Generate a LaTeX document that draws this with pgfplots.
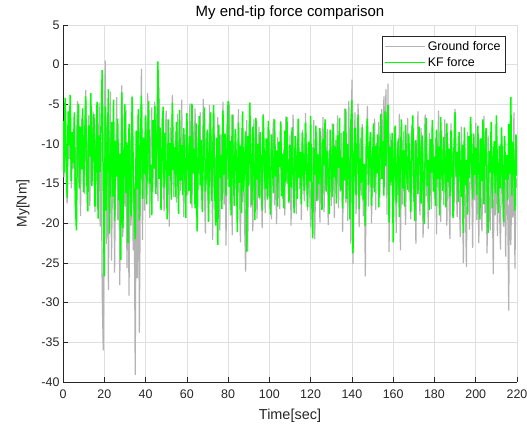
\documentclass[border=0pt]{standalone}
\usepackage{pgfplots}
\pgfplotsset{compat=1.18}
\usepackage{pgfplotstable}
\usepackage{fontspec}
\setmainfont{Liberation Sans}
\definecolor{groundgray}{RGB}{179,179,179}
\definecolor{kfgreen}{RGB}{0,255,0}
\definecolor{axgray}{RGB}{38,38,38}
\definecolor{gridgray}{RGB}{223,223,223}

\pgfplotstableread[row sep=\\]{
y\\
-9.5\\ -14.2\\ -6.1\\ -12.8\\ -17.5\\ -8.3\\ -11.9\\ -5.2\\ -15.6\\ -10.4\\
-13.1\\ -7.4\\ -18.2\\ -9.8\\ -4.6\\ -14.9\\ -11.2\\ -19.1\\ -6.8\\ -12.5\\
-8.9\\ -16.3\\ -3.2\\ -13.7\\ -10.1\\ -6.4\\ -17.8\\ -9.2\\ -14.4\\ -5.9\\
-12.2\\ -18.6\\ -7.6\\ -11.4\\ -15.1\\ -4.8\\ -20.4\\ -9.7\\ -28.9\\ -36.0\\
-8.2\\ 0.5\\ -22.6\\ -6.3\\ -28.4\\ -11.5\\ -3.4\\ -24.7\\ -14.3\\ -7.8\\
-26.2\\ -12.9\\ -4.1\\ -19.6\\ -9.4\\ -27.8\\ -15.3\\ -2.6\\ -21.7\\ -11.0\\
-17.9\\ -5.7\\ -25.6\\ -13.2\\ -29.1\\ -8.6\\ -20.3\\ -3.9\\ -23.4\\ -16.8\\
-39.1\\ -10.2\\ -26.9\\ -6.5\\ -33.8\\ -14.7\\ -0.5\\ -22.1\\ -9.1\\ -18.4\\
-7.2\\ -15.8\\ -3.6\\ -12.4\\ -19.3\\ -9.7\\ -5.4\\ -16.1\\ -11.3\\ -4.7\\
-13.9\\ -8.1\\ -17.2\\ -2.9\\ -10.8\\ -15.4\\ -6.7\\ -12.6\\ -18.5\\ -9.3\\
-5.8\\ -14.1\\ -10.6\\ -20.4\\ -7.9\\ -13.3\\ -3.8\\ -16.7\\ -11.8\\ -8.4\\
-17.4\\ -6.2\\ -12.1\\ -9.5\\ -15.9\\ -4.4\\ -13.6\\ -19.2\\ -8.8\\ -11.1\\
-6.9\\ -16.4\\ -10.3\\ -4.9\\ -14.6\\ -18.1\\ -7.7\\ -12.9\\ -5.5\\ -15.2\\
-20.7\\ -9.9\\ -13.8\\ -6.0\\ -17.1\\ -11.6\\ -4.3\\ -15.7\\ -21.3\\ -8.5\\
-12.3\\ -18.9\\ -5.1\\ -14.8\\ -9.0\\ -22.1\\ -7.3\\ -16.2\\ -11.7\\ -19.8\\
-6.6\\ -13.4\\ -20.9\\ -8.7\\ -15.0\\ -4.7\\ -17.6\\ -10.5\\ -22.8\\ -7.5\\
-14.5\\ -4.7\\ -18.3\\ -11.0\\ -21.5\\ -6.3\\ -16.0\\ -9.6\\ -13.0\\ -19.7\\
-5.6\\ -15.5\\ -22.4\\ -8.0\\ -17.3\\ -11.0\\ -20.0\\ -26.1\\ -7.0\\ -23.5\\
-10.9\\ -4.8\\ -18.0\\ -13.5\\ -21.0\\ -6.9\\ -15.9\\ -9.8\\ -19.4\\ -12.6\\
-7.8\\ -17.0\\ -11.4\\ -20.6\\ -6.2\\ -14.2\\ -18.7\\ -9.4\\ -13.9\\ -16.6\\
-8.3\\ -15.3\\ -19.5\\ -10.0\\ -6.8\\ -17.7\\ -12.4\\ -20.1\\ -9.1\\ -14.0\\
-18.2\\ -7.1\\ -13.1\\ -16.9\\ -10.7\\ -19.0\\ -6.5\\ -15.0\\ -11.9\\ -17.5\\
-8.9\\ -20.3\\ -12.8\\ -6.3\\ -16.3\\ -10.2\\ -18.8\\ -13.7\\ -7.6\\ -15.7\\
-11.2\\ -19.6\\ -8.2\\ -14.9\\ -17.2\\ -6.1\\ -12.1\\ -18.4\\ -9.7\\ -15.6\\
-20.5\\ -10.4\\ -13.3\\ -7.0\\ -22.0\\ -12.7\\ -8.5\\ -17.1\\ -11.5\\ -19.9\\
-9.0\\ -14.6\\ -6.6\\ -18.6\\ -12.2\\ -15.8\\ -8.1\\ -20.2\\ -10.8\\ -13.6\\
-17.8\\ -7.4\\ -12.5\\ -19.3\\ -9.5\\ -15.2\\ -6.4\\ -18.1\\ -11.3\\ -16.0\\
-8.6\\ -21.1\\ -12.0\\ -5.5\\ -17.4\\ -10.1\\ -19.7\\ -4.6\\ -14.8\\ -22.6\\
-1.9\\ -25.1\\ -11.8\\ -6.0\\ -18.8\\ -13.2\\ -4.9\\ -20.5\\ -9.2\\ -16.5\\
-7.5\\ -19.1\\ -12.9\\ -26.7\\ -10.6\\ -5.2\\ -17.9\\ -13.8\\ -8.8\\ -20.0\\
-11.4\\ -15.6\\ -6.8\\ -18.3\\ -9.9\\ -13.4\\ -7.2\\ -16.8\\ -10.5\\ -5.6\\
-14.1\\ -4.0\\ -9.3\\ -3.1\\ -18.9\\ -2.4\\ -23.6\\ -8.7\\ -15.3\\ -11.6\\
-19.4\\ -7.9\\ -13.0\\ -21.2\\ -9.7\\ -16.4\\ -6.2\\ -23.4\\ -12.4\\ -17.6\\
-8.4\\ -14.7\\ -20.2\\ -10.9\\ -6.7\\ -16.1\\ -12.6\\ -19.5\\ -7.7\\ -13.9\\
-17.3\\ -9.6\\ -22.6\\ -11.1\\ -5.9\\ -15.4\\ -19.0\\ -8.0\\ -13.1\\ -21.8\\
-10.0\\ -6.3\\ -16.6\\ -12.3\\ -20.7\\ -8.6\\ -14.4\\ -18.2\\ -7.1\\ -12.8\\
-16.9\\ -9.2\\ -21.4\\ -11.7\\ -5.8\\ -15.1\\ -19.8\\ -8.3\\ -13.5\\ -17.7\\
-6.9\\ -12.0\\ -20.3\\ -9.8\\ -15.7\\ -22.0\\ -7.4\\ -14.3\\ -11.0\\ -18.5\\
-5.6\\ -13.8\\ -19.2\\ -9.0\\ -16.2\\ -21.7\\ -7.8\\ -14.9\\ -25.0\\ -11.5\\
-18.0\\ -25.5\\ -8.5\\ -15.5\\ -20.8\\ -6.6\\ -13.2\\ -23.1\\ -10.3\\ -17.1\\
-7.3\\ -19.6\\ -14.0\\ -22.5\\ -9.4\\ -16.8\\ -21.0\\ -11.9\\ -6.5\\ -18.7\\
-13.0\\ -23.8\\ -8.9\\ -17.4\\ -20.9\\ -10.6\\ -15.3\\ -26.4\\ -12.2\\ -19.0\\
-7.6\\ -21.6\\ -14.5\\ -18.0\\ -23.3\\ -9.8\\ -16.1\\ -20.4\\ -11.4\\ -24.2\\
-13.3\\ -17.9\\ -31.0\\ -8.2\\ -22.7\\ -15.0\\ -19.3\\ -6.0\\ -25.7\\ -14.2\\
-15.5\\
}\groundtable

\pgfplotstableread[row sep=\\]{
y\\
-7.1\\ -13.6\\ -4.2\\ -11.3\\ -16.8\\ -5.9\\ -10.2\\ -3.8\\ -14.7\\ -8.5\\
-12.4\\ -6.0\\ -17.3\\ -20.9\\ -9.1\\ -4.9\\ -15.6\\ -7.8\\ -13.2\\ -5.5\\
-16.1\\ -9.4\\ -4.0\\ -14.2\\ -18.5\\ -7.7\\ -11.6\\ -3.6\\ -15.3\\ -10.0\\
-6.2\\ -17.9\\ -12.1\\ -4.7\\ -19.4\\ -8.9\\ -13.5\\ -6.6\\ -0.7\\ -15.8\\
-26.7\\ -5.3\\ -18.4\\ -10.7\\ -3.1\\ -21.3\\ -12.9\\ -7.2\\ -16.6\\ -4.4\\
-19.7\\ -9.6\\ -14.1\\ -6.8\\ -17.1\\ -11.2\\ -24.6\\ -3.5\\ -20.6\\ -13.4\\
-5.0\\ -16.2\\ -9.8\\ -22.5\\ -7.5\\ -14.8\\ -19.1\\ -4.1\\ -12.3\\ -18.0\\
-22.0\\ -8.3\\ -15.7\\ -5.6\\ -19.6\\ -11.0\\ -3.9\\ -16.9\\ -9.3\\ -13.8\\
-6.4\\ -17.6\\ -10.5\\ -4.6\\ -15.0\\ -12.6\\ -19.0\\ -7.0\\ -13.1\\ -5.2\\
-16.3\\ -9.7\\ 0.4\\ -14.4\\ -7.9\\ -18.3\\ -11.8\\ -5.3\\ -15.5\\ -8.6\\
-12.9\\ -19.5\\ -6.9\\ -14.0\\ -9.9\\ -17.0\\ -4.8\\ -13.3\\ -10.4\\ -16.7\\
-7.2\\ -12.5\\ -18.8\\ -5.7\\ -14.6\\ -10.1\\ -16.4\\ -8.0\\ -13.0\\ -19.3\\
-6.1\\ -11.7\\ -15.9\\ -9.0\\ -17.5\\ -4.9\\ -13.7\\ -10.6\\ -18.1\\ -7.4\\
-21.0\\ -12.2\\ -6.5\\ -15.2\\ -9.5\\ -18.6\\ -11.1\\ -5.4\\ -16.0\\ -13.6\\
-8.2\\ -19.8\\ -10.9\\ -6.0\\ -17.2\\ -12.4\\ -5.1\\ -15.8\\ -20.3\\ -9.2\\
-22.7\\ -7.6\\ -14.3\\ -11.4\\ -18.2\\ -5.8\\ -13.9\\ -8.7\\ -16.5\\ -10.3\\
-4.6\\ -15.4\\ -9.6\\ -19.0\\ -6.3\\ -13.1\\ -17.8\\ -8.1\\ -12.0\\ -21.1\\
-7.3\\ -14.9\\ -10.2\\ -18.7\\ -5.9\\ -16.0\\ -12.7\\ -8.4\\ -23.6\\ -9.0\\
-15.3\\ -4.8\\ -11.9\\ -17.7\\ -7.8\\ -13.4\\ -19.6\\ -6.7\\ -14.5\\ -10.0\\
-16.8\\ -8.5\\ -12.8\\ -18.4\\ -6.4\\ -11.5\\ -15.7\\ -9.3\\ -17.0\\ -7.1\\
-13.6\\ -18.9\\ -8.8\\ -12.3\\ -16.2\\ -6.9\\ -14.1\\ -10.8\\ -17.9\\ -9.7\\
-12.9\\ -7.2\\ -16.6\\ -11.2\\ -18.1\\ -8.3\\ -14.8\\ -6.6\\ -13.2\\ -17.3\\
-10.1\\ -15.5\\ -7.9\\ -13.8\\ -18.7\\ -9.0\\ -12.0\\ -16.9\\ -6.8\\ -14.3\\
-11.0\\ -17.6\\ -8.6\\ -13.1\\ -15.9\\ -7.3\\ -12.6\\ -18.0\\ -9.8\\ -14.7\\
-6.5\\ -16.4\\ -21.9\\ -10.5\\ -13.9\\ -7.7\\ -17.2\\ -11.3\\ -15.1\\ -8.0\\
-14.0\\ -18.3\\ -9.4\\ -12.7\\ -6.9\\ -16.0\\ -10.9\\ -13.5\\ -18.8\\ -8.2\\
-12.4\\ -16.7\\ -7.5\\ -14.2\\ -10.3\\ -17.5\\ -8.9\\ -13.0\\ -6.7\\ -15.8\\
-11.7\\ -18.1\\ -8.4\\ -14.6\\ -5.6\\ -16.9\\ -10.0\\ -13.3\\ -19.5\\ -7.2\\
-4.5\\ -23.8\\ -12.2\\ -8.0\\ -16.4\\ -10.6\\ -6.3\\ -18.2\\ -11.8\\ -14.9\\
-7.9\\ -17.0\\ -12.5\\ -20.3\\ -9.1\\ -6.8\\ -15.2\\ -11.0\\ -8.5\\ -17.8\\
-12.7\\ -7.4\\ -16.1\\ -10.2\\ -13.7\\ -8.8\\ -18.0\\ -11.5\\ -6.2\\ -14.4\\
-9.6\\ -16.5\\ -5.9\\ -12.8\\ -7.1\\ -5.1\\ -19.9\\ -10.4\\ -14.8\\ -8.6\\
-22.4\\ -11.9\\ -7.7\\ -17.4\\ -13.0\\ -9.3\\ -19.2\\ -12.1\\ -6.9\\ -15.6\\
-10.8\\ -17.9\\ -7.6\\ -13.5\\ -15.8\\ -8.7\\ -12.4\\ -18.6\\ -10.0\\ -6.4\\
-14.6\\ -19.7\\ -9.5\\ -12.9\\ -16.3\\ -7.8\\ -11.2\\ -17.5\\ -8.9\\ -14.0\\
-20.1\\ -10.7\\ -6.7\\ -15.3\\ -12.0\\ -18.3\\ -9.4\\ -13.6\\ -7.0\\ -16.0\\
-11.6\\ -17.8\\ -8.2\\ -14.4\\ -10.3\\ -19.0\\ -6.6\\ -13.1\\ -15.9\\ -9.1\\
-12.6\\ -18.0\\ -7.4\\ -14.8\\ -10.6\\ -16.6\\ -8.3\\ -12.3\\ -19.3\\ -9.9\\
-6.0\\ -14.1\\ -11.0\\ -17.3\\ -8.5\\ -13.2\\ -16.7\\ -10.1\\ -21.2\\ -7.9\\
-15.2\\ -12.0\\ -18.9\\ -9.0\\ -14.3\\ -6.6\\ -11.7\\ -17.0\\ -8.7\\ -13.9\\
-10.5\\ -16.4\\ -7.7\\ -12.7\\ -19.5\\ -9.3\\ -14.7\\ -6.9\\ -17.6\\ -11.3\\
-8.0\\ -15.0\\ -21.2\\ -10.9\\ -13.6\\ -7.2\\ -18.1\\ -12.1\\ -9.6\\ -16.2\\
-6.4\\ -13.4\\ -18.7\\ -10.2\\ -15.6\\ -7.9\\ -12.9\\ -19.8\\ -9.0\\ -14.5\\
-11.4\\ -17.1\\ -7.5\\ -13.8\\ -4.1\\ -16.5\\ -9.7\\ -12.6\\ -18.4\\ -8.8\\
-14.0\\
}\kftable

\begin{document}
\begin{tikzpicture}
\useasboundingbox (0,0) rectangle (527bp,429bp);
\begin{axis}[
  at={(63bp,47bp)}, anchor=south west,
  scale only axis, width=454bp, height=357bp,
  xmin=0, xmax=220, ymin=-40, ymax=5,
  axis x line*=bottom, axis y line*=left,
  axis line style={-, draw=axgray, line width=0.5bp},
  xtick={0,20,...,220},
  xticklabels={0,20,40,60,80,100,120,140,160,180,200,220},
  ytick={-40,-35,...,5},
  yticklabels={-40,-35,-30,-25,-20,-15,-10,-5,0,5},
  tick align=inside,
  major tick length=5bp,
  tick style={draw=axgray, line width=0.5bp},
  ticklabel style={font=\fontsize{12.5}{14}\selectfont, text=axgray},
  xticklabel style={yshift=-4bp},
  grid=major,
  major grid style={draw=gridgray, line width=0.5bp},
  xlabel={Time[sec]},
  ylabel={My[Nm]},
  xlabel style={at={(axis description cs:0.5,-0.094)}, anchor=center, font=\fontsize{14.5}{16}\selectfont, text=axgray},
  ylabel style={at={(axis description cs:-0.088,0.5)}, anchor=center, font=\fontsize{14}{16}\selectfont, text=axgray},
  every axis title shift=0pt,
  title={My end-tip force comparison},
  title style={at={(axis description cs:0.5,1.036)}, anchor=center, font=\fontsize{15}{17}\selectfont, text=black},
  legend style={at={(axis description cs:0.975,0.968)}, anchor=north east,
    draw=axgray, fill=white, font=\fontsize{12.5}{14}\selectfont,
    inner xsep=3bp, inner ysep=1.5bp,
    nodes={inner ysep=3bp}},
  legend cell align=left,
  legend image code/.code={\draw[#1, line width=1bp] (0bp,0bp) -- (40bp,0bp);},
]
\addplot[draw=groundgray, line width=1.2bp] table[x expr=\coordindex*0.5, y=y] {\groundtable};
\addlegendentry{Ground force}
\addplot[draw=kfgreen, line width=1.5bp] table[x expr=\coordindex*0.5, y=y] {\kftable};
\addlegendentry{KF force}
\end{axis}
\end{tikzpicture}
\end{document}
